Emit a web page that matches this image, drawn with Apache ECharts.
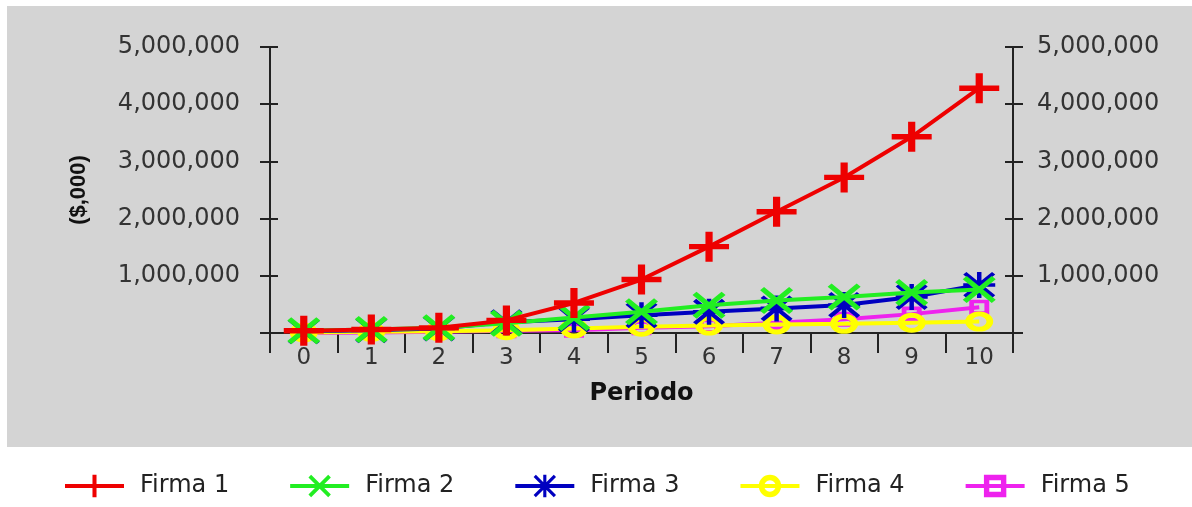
<!DOCTYPE html>
<html>
<head>
<meta charset="utf-8">
<script src="https://cdn.jsdelivr.net/npm/echarts@6/dist/echarts.min.js"></script>
<style>
html,body{margin:0;padding:0;background:#fff;}
#chart{width:1192px;height:507px;}
</style>
</head>
<body>
<div id="chart"></div>
<script>
// ---- data ----
const periods = ['0','1','2','3','4','5','6','7','8','9','10'];
const seriesNames = ['Firma 1','Firma 2','Firma 3','Firma 4','Firma 5'];
const firma1 = [40000, 60000, 90000, 220000, 525000, 935000, 1510000, 2120000, 2720000, 3430000, 4280000];
const firma2 = [40000, 60000, 90000, 170000, 270000, 370000, 485000, 570000, 630000, 710000, 760000];
const firma3 = [30000, 50000, 80000, 190000, 240000, 310000, 370000, 430000, 490000, 630000, 840000];
const firma4 = [10000, 20000, 30000, 50000, 80000, 110000, 130000, 150000, 160000, 180000, 200000];
const firma5 = [0, 10000, 20000, 40000, 50000, 90000, 120000, 180000, 240000, 330000, 450000];
const yTicks = [0, 1000000, 2000000, 3000000, 4000000, 5000000];
const xAxisTitle = 'Periodo';
const yAxisTitle = '($,000)';

const colors = ['#ee0000', '#22ee22', '#0000c0', '#ffff00', '#ee22ee'];
const symPlus = 'path://M0,41 L100,41 L100,59 L0,59 Z M41,0 L59,0 L59,100 L41,100 Z';
const symX = 'path://M0,12 L12,0 L100,88 L88,100 Z M88,0 L100,12 L12,100 L0,88 Z';
const symStar = 'path://M0,43 L100,43 L100,57 L0,57 Z M43,0 L57,0 L57,100 L43,100 Z M0,10 L10,0 L100,90 L90,100 Z M90,0 L100,10 L10,100 L0,90 Z';
const symRing = 'path://M50,0 A50,50 0 1,1 50,100 A50,50 0 1,1 50,0 Z M50,24 A26,26 0 1,0 50,76 A26,26 0 1,0 50,24 Z';
const symSquare = 'path://M0,0 L100,0 L100,100 L0,100 Z M24,24 L24,76 L76,76 L76,24 Z';

function fmt(v){
  if (v === 0) return '';
  return String(v).replace(/\B(?=(\d{3})+(?!\d))/g, ',');
}

const axisColor = '#222';
const labelFont = {fontFamily: 'DejaVu Sans', fontSize: 23, color: '#333'};
const yBase = {type: 'value', min: yTicks[0], max: yTicks[yTicks.length-1], interval: yTicks[1]-yTicks[0], splitLine: {show: false}};

const chart = echarts.init(document.getElementById('chart'), null, {renderer: 'canvas'});
const allData = [firma1, firma2, firma3, firma4, firma5];
const symbols = [symPlus, symX, symStar, symRing, symSquare];
const sizes = [[40,30],[33,27],[32,26],[28,20],[20,15]];
const widths = [4, 4, 4, 4, 4];
const zs = [10, 8, 7, 6, 5];

chart.setOption({
  animation: false,
  backgroundColor: '#ffffff',
  graphic: [{
    type: 'rect', z: -10, silent: true,
    shape: {x: 7, y: 6, width: 1185, height: 441},
    style: {fill: '#d4d4d4'}
  }],
  grid: {left: 270, right: 179, top: 47, bottom: 174, containLabel: false},
  legend: {
    data: seriesNames,
    left: 58, top: 469,
    itemWidth: 59, itemHeight: 28, itemGap: 59,
    lineStyle: {width: 4},
    textStyle: {fontFamily: 'DejaVu Sans', fontSize: 24, color: '#222', padding: [0,0,0,11]}
  },
  xAxis: [{
    type: 'category', data: periods, boundaryGap: true, position: 'bottom',
    axisLine: {show: true, lineStyle: {color: axisColor, width: 2}},
    axisTick: {show: true, inside: false, length: 20, interval: 0, lineStyle: {color: axisColor, width: 2}},
    axisLabel: Object.assign({margin: 14, interval: 0}, labelFont),
    name: xAxisTitle, nameLocation: 'middle', nameGap: 49,
    nameTextStyle: {fontFamily: 'DejaVu Sans', fontWeight: 'bold', fontSize: 24, color: '#111'}
  }, {
    type: 'category', data: periods, boundaryGap: true, position: 'top',
    axisLine: {show: true, lineStyle: {color: axisColor, width: 2}},
    axisTick: {show: false}, axisLabel: {show: false}
  }],
  yAxis: [
    Object.assign({}, yBase, {
      position: 'left',
      axisLine: {show: true, lineStyle: {color: axisColor, width: 2}},
      axisTick: {show: true, inside: false, length: 10, lineStyle: {color: axisColor, width: 2}},
      axisLabel: Object.assign({margin: 30, formatter: fmt}, labelFont, {fontSize: 24}),
      name: yAxisTitle, nameLocation: 'middle', nameRotate: 90, nameGap: 180,
      nameTextStyle: {fontFamily: 'Liberation Sans', fontWeight: 'bold', fontSize: 22, color: '#111'}
    }),
    Object.assign({}, yBase, {
      position: 'left',
      axisLine: {show: false},
      axisTick: {show: true, inside: true, length: 8, lineStyle: {color: axisColor, width: 2}},
      axisLabel: {show: false}
    }),
    Object.assign({}, yBase, {
      position: 'right',
      axisLine: {show: true, lineStyle: {color: axisColor, width: 2}},
      axisTick: {show: true, inside: false, length: 10, lineStyle: {color: axisColor, width: 2}},
      axisLabel: Object.assign({margin: 24, formatter: fmt}, labelFont, {fontSize: 24})
    }),
    Object.assign({}, yBase, {
      position: 'right',
      axisLine: {show: false},
      axisTick: {show: true, inside: true, length: 8, lineStyle: {color: axisColor, width: 2}},
      axisLabel: {show: false}
    })
  ],
  series: seriesNames.map((n, i) => ({
    name: n, type: 'line', data: allData[i], xAxisIndex: 0, yAxisIndex: 0,
    symbol: symbols[i], symbolSize: sizes[i], showAllSymbol: true,
    z: zs[i],
    lineStyle: {color: colors[i], width: widths[i]},
    itemStyle: {color: colors[i]}
  }))
});
</script>
</body>
</html>
